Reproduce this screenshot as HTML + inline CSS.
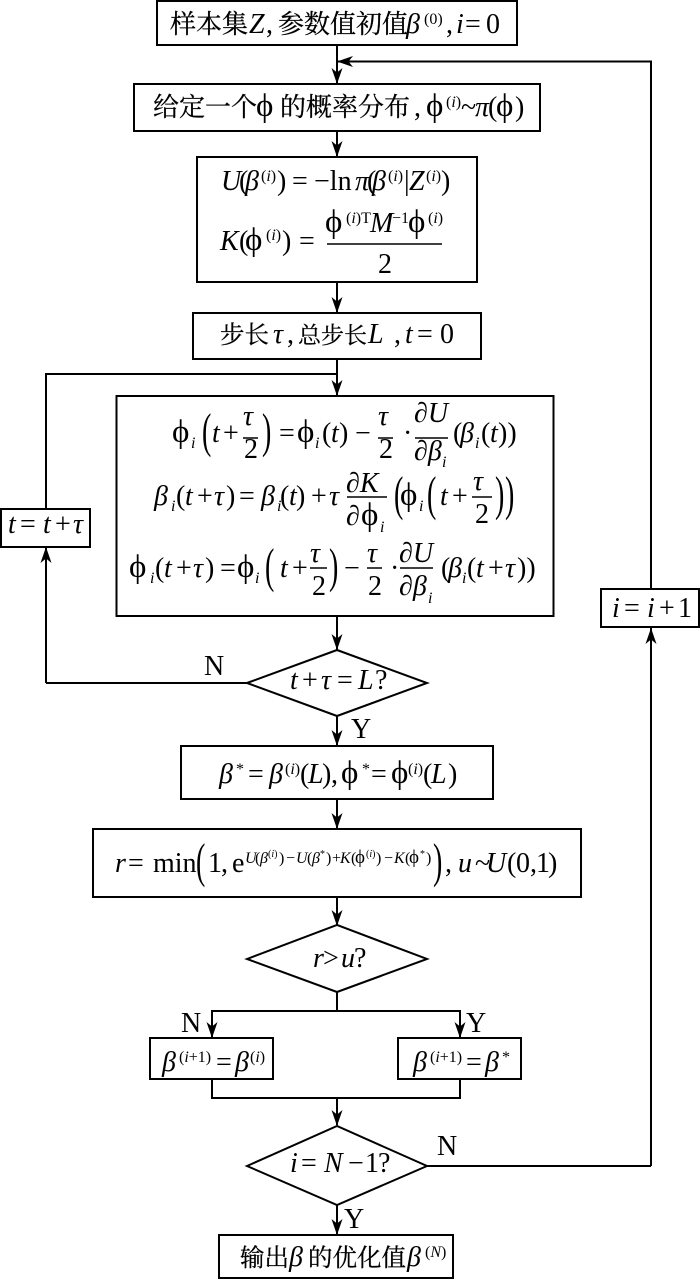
<!DOCTYPE html>
<html><head><meta charset="utf-8"><style>
html,body{margin:0;padding:0;background:#fff}
svg{display:block}
text{font-family:"Liberation Serif","Noto Serif CJK SC",serif;font-size:28px;fill:#000;white-space:pre}
.i{font-style:italic}
.s{font-size:16px}
.c{font-family:"Noto Serif CJK SC","Liberation Serif",serif;font-size:26px;stroke:#000;stroke-width:.25}
.c2{font-family:"Noto Serif CJK SC","Liberation Serif",serif;font-size:24.500px;stroke:#000;stroke-width:.25}
.c3{font-family:"Noto Serif CJK SC","Liberation Serif",serif;font-size:23px;stroke:#000;stroke-width:.25}
.p{font-size:33px}
.b{fill:#fff;stroke:#000;stroke-width:2}
.l{fill:none;stroke:#000;stroke-width:2}
.f{fill:none;stroke:#000;stroke-width:1.400}
.e{font-size:16px}
.es{font-size:10px}
.p2{font-size:19px}
</style></head><body>
<svg width="700" height="1280" viewBox="0 0 700 1280" xmlns="http://www.w3.org/2000/svg">
<rect width="700" height="1280" fill="#fff"/>
<defs><path id="a" d="M0 0L-5.5-16L0-11.5L5.500-16Z" fill="#000"/></defs>
<path class="l" d="M337 45V83M651 1166V628M651 589V61.500H337M337 131V156M337 282V312M337 359V395M337 374H46V509M46 683V548M247 683H46M337 616V650M337 716V745M337 799V828M337 897V925M337 992V1011M212 1037V1011H460V1037M212 1079V1098H460V1079M337 1098V1125M427 1166H651M337 1205V1234"/>
<use href="#a" x="337" y="84"/><use href="#a" x="337" y="157"/><use href="#a" x="337" y="313"/><use href="#a" x="337" y="396"/><use href="#a" x="337" y="650"/><use href="#a" x="337" y="746"/><use href="#a" x="337" y="829"/><use href="#a" x="337" y="926"/><use href="#a" x="212" y="1038"/><use href="#a" x="460" y="1038"/><use href="#a" x="337" y="1126"/><use href="#a" x="337" y="1235"/>
<use href="#a" transform="translate(46 547) rotate(180)"/><use href="#a" transform="translate(651 628) rotate(180)"/><use href="#a" transform="translate(337 61.500) rotate(90)"/>
<rect class="b" x="157" y="1" width="360" height="44"/>
<rect class="b" x="134" y="84" width="406" height="47"/>
<rect class="b" x="197" y="157" width="280" height="125"/>
<rect class="b" x="193" y="313" width="288" height="46"/>
<rect class="b" x="116.500" y="396" width="437" height="220"/>
<rect class="b" x="1" y="509" width="89" height="38"/>
<rect class="b" x="601" y="589" width="98" height="38"/>
<rect class="b" x="181" y="746" width="312" height="53"/>
<rect class="b" x="93" y="829" width="488" height="68"/>
<rect class="b" x="150" y="1038" width="123" height="41"/>
<rect class="b" x="398" y="1038" width="123" height="41"/>
<rect class="b" x="219" y="1235" width="234" height="43"/>
<path class="b" d="M247 683L337 650L427 683L337 716Z"/>
<path class="b" d="M247 959L337 925L427 959L337 992Z"/>
<path class="b" d="M247 1166L337 1126L427 1166L337 1205Z"/>
<path class="f" d="M327 244H442M243 438H258M378 438H393M415 438H448M347 497H387M472 497H492M310 568H327M367 568H382M400 568H433"/>

<text y="33"><tspan class="c" x="170">样本集</tspan><tspan class="i" x="249">Z</tspan><tspan x="266">,</tspan><tspan class="c" x="278">参数值初值</tspan><tspan class="i" x="406">β</tspan><tspan class="s" x="424" y="24">(0)</tspan><tspan x="446" y="33">,</tspan><tspan class="i" x="456">i</tspan><tspan x="465">=</tspan><tspan x="486">0</tspan></text>

<text y="116"><tspan class="c" x="153">给定一个</tspan><tspan class="p" x="256">ϕ</tspan><tspan class="c" x="280">的概率分布</tspan><tspan x="414">,</tspan><tspan class="p" x="426">ϕ</tspan><tspan class="s" x="446" y="107">(<tspan class="i">i</tspan>)</tspan><tspan x="461" y="116">~</tspan><tspan class="i" x="475">π</tspan><tspan x="488">(</tspan><tspan class="p" x="496">ϕ</tspan><tspan x="515">)</tspan></text>

<text y="190"><tspan class="i" x="221">U</tspan><tspan x="239">(</tspan><tspan class="i" x="245">β</tspan><tspan class="s" x="261" y="181">(<tspan class="i">i</tspan>)</tspan><tspan x="277" y="190">)</tspan><tspan x="292">=</tspan><tspan x="314">−ln</tspan><tspan class="i" x="355">π</tspan><tspan x="367">(</tspan><tspan class="i" x="372">β</tspan><tspan class="s" x="388" y="181">(<tspan class="i">i</tspan>)</tspan><tspan x="404" y="190">|</tspan><tspan class="i" x="409">Z</tspan><tspan class="s" x="426" y="181">(<tspan class="i">i</tspan>)</tspan><tspan x="441" y="190">)</tspan></text>
<text y="250"><tspan class="i" x="220">K</tspan><tspan x="239">(</tspan><tspan class="p" x="245">ϕ</tspan><tspan class="s" x="266" y="240">(<tspan class="i">i</tspan>)</tspan><tspan x="282" y="250">)</tspan><tspan x="299">=</tspan></text>
<text y="232"><tspan class="p" x="325">ϕ</tspan><tspan class="s" x="346" y="223">(<tspan class="i">i</tspan>)T</tspan><tspan class="i" x="370" y="232">M</tspan><tspan class="s" x="392" y="223">−1</tspan><tspan class="p" x="408" y="232">ϕ</tspan><tspan class="s" x="428" y="223">(<tspan class="i">i</tspan>)</tspan></text>
<text x="378" y="273">2</text>

<text y="343"><tspan class="c2" x="220">步长</tspan><tspan class="i" x="273">τ</tspan><tspan x="287">,</tspan><tspan class="c3" x="298">总步长</tspan><tspan class="i" x="368">L</tspan><tspan x="394">,</tspan><tspan class="i" x="405">t</tspan><tspan x="417">=</tspan><tspan x="440">0</tspan></text>

<!-- formula 1 -->
<text y="442"><tspan class="p" x="172">ϕ</tspan><tspan class="s i" x="191" y="448">i</tspan><tspan class="i" x="212" y="442">t</tspan><tspan x="223">+</tspan><tspan x="279">=</tspan><tspan class="p" x="297">ϕ</tspan><tspan class="s i" x="315" y="448">i</tspan><tspan x="322" y="442">(</tspan><tspan class="i" x="331">t</tspan><tspan x="339">)</tspan><tspan x="355">−</tspan><tspan x="403">·</tspan><tspan x="453">(</tspan><tspan class="i" x="460">β</tspan><tspan class="s i" x="475" y="448">i</tspan><tspan x="481" y="442">(</tspan><tspan class="i" x="490">t</tspan><tspan x="498">))</tspan></text>
<text class="i" x="243" y="425">τ</text><text x="244" y="458">2</text>
<text class="i" x="378" y="425">τ</text><text x="379" y="458">2</text>
<text x="414" y="422">∂<tspan class="i">U</tspan></text><text x="414" y="460">∂<tspan class="i">β</tspan></text><text class="s i" x="442" y="467">i</text>
<text transform="translate(202 447) scale(1 1.750)">(</text><text transform="translate(262 447) scale(1 1.750)">)</text>

<!-- formula 2 -->
<text y="505"><tspan class="i" x="154">β</tspan><tspan class="s i" x="171" y="511">i</tspan><tspan x="176" y="505">(</tspan><tspan class="i" x="185">t</tspan><tspan x="197">+</tspan><tspan class="i" x="214">τ</tspan><tspan x="226">)</tspan><tspan x="239">=</tspan><tspan class="i" x="261">β</tspan><tspan class="s i" x="277" y="511">i</tspan><tspan x="280" y="505">(</tspan><tspan class="i" x="289">t</tspan><tspan x="296">)</tspan><tspan x="311">+</tspan><tspan class="i" x="329">τ</tspan><tspan class="p" x="400">ϕ</tspan><tspan class="s i" x="419" y="511">i</tspan><tspan class="i" x="440" y="505">t</tspan><tspan x="452">+</tspan></text>
<text x="346" y="492">∂<tspan class="i">K</tspan></text><text x="346" y="525">∂</text><text class="p" x="361" y="525">ϕ</text><text class="s i" x="380" y="532">i</text>
<text class="i" x="473" y="490">τ</text><text x="475" y="523">2</text>
<text transform="translate(394 510) scale(1 1.750)">(</text><text transform="translate(427 510) scale(1 1.750)">(</text><text transform="translate(495 510) scale(1 1.750)">)</text><text transform="translate(505 510) scale(1 1.750)">)</text>

<!-- formula 3 -->
<text y="577"><tspan class="p" x="129">ϕ</tspan><tspan class="s i" x="150" y="583">i</tspan><tspan x="155" y="577">(</tspan><tspan class="i" x="164">t</tspan><tspan x="176">+</tspan><tspan class="i" x="193">τ</tspan><tspan x="205">)</tspan><tspan x="220">=</tspan><tspan class="p" x="237">ϕ</tspan><tspan class="s i" x="255" y="583">i</tspan><tspan class="i" x="280" y="577">t</tspan><tspan x="292">+</tspan><tspan x="344">−</tspan><tspan x="390">·</tspan><tspan x="441">(</tspan><tspan class="i" x="448">β</tspan><tspan class="s i" x="462" y="583">i</tspan><tspan x="467" y="577">(</tspan><tspan class="i" x="476">t</tspan><tspan x="488">+</tspan><tspan class="i" x="505">τ</tspan><tspan x="517">))</tspan></text>
<text class="i" x="310" y="562">τ</text><text x="312" y="595">2</text>
<text class="i" x="367" y="562">τ</text><text x="368" y="595">2</text>
<text x="399" y="562">∂<tspan class="i">U</tspan></text><text x="399" y="595">∂<tspan class="i">β</tspan></text><text class="s i" x="428" y="603">i</text>
<text transform="translate(265 582) scale(1 1.750)">(</text><text transform="translate(329 582) scale(1 1.750)">)</text>

<text y="533"><tspan class="i" x="8">t</tspan><tspan x="20">=</tspan><tspan class="i" x="43">t</tspan><tspan x="55">+</tspan><tspan class="i" x="73">τ</tspan></text>
<text y="617"><tspan class="i" x="612">i</tspan><tspan x="624">=</tspan><tspan class="i" x="647">i</tspan><tspan x="659">+</tspan><tspan x="678">1</tspan></text>

<text y="689"><tspan class="i" x="290">t</tspan><tspan x="302">+</tspan><tspan class="i" x="321">τ</tspan><tspan x="337">=</tspan><tspan class="i" x="358">L</tspan><tspan x="375">?</tspan></text>
<text x="204" y="675">N</text><text x="351" y="738">Y</text>

<text y="783"><tspan class="i" x="219">β</tspan><tspan class="s" x="236" y="774">*</tspan><tspan x="248" y="783">=</tspan><tspan class="i" x="269">β</tspan><tspan class="s" x="285" y="774">(<tspan class="i">i</tspan>)</tspan><tspan x="300" y="783">(</tspan><tspan class="i" x="308">L</tspan><tspan x="322">)</tspan><tspan x="331">,</tspan><tspan class="p" x="341">ϕ</tspan><tspan class="s" x="362" y="774">*</tspan><tspan x="371" y="783">=</tspan><tspan class="p" x="391">ϕ</tspan><tspan class="s" x="408" y="774">(<tspan class="i">i</tspan>)</tspan><tspan x="423" y="783">(</tspan><tspan class="i" x="431">L</tspan><tspan x="448">)</tspan></text>

<text y="872"><tspan class="i" x="115">r</tspan><tspan x="128">=</tspan><tspan x="153">min</tspan><tspan x="208">1</tspan><tspan x="221">,</tspan><tspan x="232">e</tspan><tspan x="445">,</tspan><tspan class="i" x="458">u</tspan><tspan x="475">~</tspan><tspan class="i" x="486">U</tspan><tspan x="507">(</tspan><tspan x="516">0</tspan><tspan x="530">,</tspan><tspan x="536">1</tspan><tspan x="548">)</tspan></text>
<text y="863" class="e"><tspan class="i" x="245">U</tspan><tspan x="255">(</tspan><tspan class="i" x="260">β</tspan><tspan class="es" x="268" y="857">(<tspan class="i">i</tspan>)</tspan><tspan x="279" y="863">)</tspan><tspan x="286">−</tspan><tspan class="i" x="296">U</tspan><tspan x="307">(</tspan><tspan class="i" x="312">β</tspan><tspan class="es" x="320" y="857">*</tspan><tspan x="326" y="863">)</tspan><tspan x="332">+</tspan><tspan class="i" x="340">K</tspan><tspan x="351">(</tspan><tspan class="p2" x="355">ϕ</tspan><tspan class="es" x="366" y="857">(<tspan class="i">i</tspan>)</tspan><tspan x="376" y="863">)</tspan><tspan x="384">−</tspan><tspan class="i" x="394">K</tspan><tspan x="405">(</tspan><tspan class="p2" x="409">ϕ</tspan><tspan class="es" x="420" y="857">*</tspan><tspan x="426" y="863">)</tspan></text>
<text transform="translate(196 877) scale(1 1.750)">(</text><text transform="translate(433 877) scale(1 1.750)">)</text>

<text y="967"><tspan class="i" x="313">r</tspan><tspan x="323">&gt;</tspan><tspan class="i" x="341">u</tspan><tspan x="354">?</tspan></text>
<text x="181" y="1032">N</text><text x="466" y="1032">Y</text>

<text y="1071"><tspan class="i" x="162">β</tspan><tspan class="s" x="179" y="1062">(<tspan class="i">i</tspan>+1)</tspan><tspan x="216" y="1071">=</tspan><tspan class="i" x="235">β</tspan><tspan class="s" x="250" y="1062">(<tspan class="i">i</tspan>)</tspan></text>
<text y="1071"><tspan class="i" x="413">β</tspan><tspan class="s" x="430" y="1062">(<tspan class="i">i</tspan>+1)</tspan><tspan x="466" y="1071">=</tspan><tspan class="i" x="485">β</tspan><tspan class="s" x="502" y="1062">*</tspan></text>

<text y="1172"><tspan class="i" x="290">i</tspan><tspan x="301">=</tspan><tspan class="i" x="324">N</tspan><tspan x="348">−</tspan><tspan x="365">1</tspan><tspan x="378">?</tspan></text>
<text x="437" y="1155">N</text><text x="344" y="1228">Y</text>

<text y="1266"><tspan class="c2" x="240">输出</tspan><tspan class="i" x="289">β</tspan><tspan class="c2" x="308">的优化值</tspan><tspan class="i" x="407">β</tspan><tspan class="s" x="425" y="1257">(<tspan class="i">N</tspan>)</tspan></text>
</svg>
</body></html>
